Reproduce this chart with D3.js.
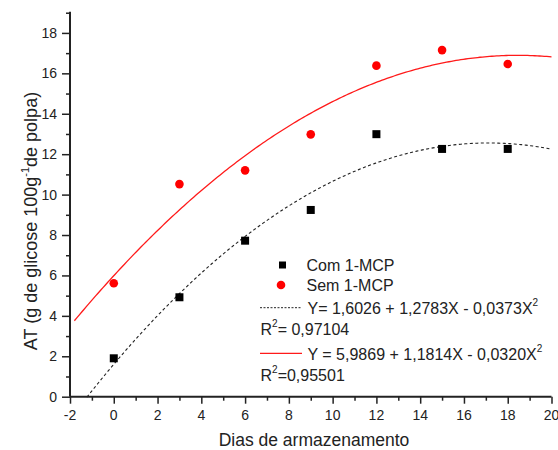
<!DOCTYPE html>
<html>
<head>
<meta charset="utf-8">
<script src="https://cdn.jsdelivr.net/npm/d3@7"></script>
<style>
  html, body { margin: 0; padding: 0; background: #fff; }
  svg { display: block; font-family: "Liberation Sans", Arial, sans-serif; }
</style>
</head>
<body>
<svg id="chart" width="558" height="450"></svg>
<script>
// Storage days
const days = [0, 3, 6, 9, 12, 15, 18];
// Titratable acidity, with and without 1-MCP
const comMCP = [1.90, 4.92, 7.72, 9.24, 12.99, 12.26, 12.26];
const semMCP = [5.61, 10.52, 11.20, 12.98, 16.38, 17.15, 16.46];
// Quadratic fit coefficients [a, b, c] for Y = a + bX + cX^2
const fitCom = [1.6026, 1.2783, -0.0373];
const fitSem = [5.9869, 1.1814, -0.0320];
const r2Com = "0,97104";
const r2Sem = "0,95501";
// Fit curve x-ranges
const fitComRange = [-1.23, 20];
const fitSemRange = [-1.8, 20];
// Axis ticks
const xTicks = [-2, 0, 2, 4, 6, 8, 10, 12, 14, 16, 18, 20];
const yTicks = [0, 2, 4, 6, 8, 10, 12, 14, 16, 18];

const svg = d3.select("#chart");
const plotL = 70, plotR = 551.5, plotT = 11.7, plotB = 396.7;

const x = d3.scaleLinear().domain([-2, 20]).range([plotL, plotR]);
const y = d3.scaleLinear().domain([0, 19.05]).range([plotB, plotT]);

const textColor = "#222";

// Fit curves
function curvePoints(c, range) {
  const pts = [];
  const n = 200;
  for (let i = 0; i <= n; i++) {
    const xv = range[0] + (range[1] - range[0]) * i / n;
    pts.push([xv, c[0] + c[1] * xv + c[2] * xv * xv]);
  }
  return pts;
}
const line = d3.line().x(d => x(d[0])).y(d => y(d[1]));

svg.append("path")
  .attr("d", line(curvePoints(fitSem, fitSemRange)))
  .attr("fill", "none").attr("stroke", "#ff1a1a").attr("stroke-width", 1.3);

svg.append("path")
  .attr("d", line(curvePoints(fitCom, fitComRange)))
  .attr("fill", "none").attr("stroke", "#222").attr("stroke-width", 1.1)
  .attr("stroke-dasharray", "3,2.5");

// Markers
svg.append("g").selectAll("rect").data(days).join("rect")
  .attr("x", (d) => x(d) - 4)
  .attr("y", (d, i) => y(comMCP[i]) - 4)
  .attr("width", 8).attr("height", 8)
  .attr("fill", "#000");

svg.append("g").selectAll("circle").data(days).join("circle")
  .attr("cx", d => x(d))
  .attr("cy", (d, i) => y(semMCP[i]))
  .attr("r", 4.3)
  .attr("fill", "#ff0000");

// Axes
const xAxis = svg.append("g").attr("transform", `translate(0,${plotB})`);
xAxis.call(d3.axisBottom(x).tickValues(d3.range(-2, 21, 1)).tickSize(4).tickFormat(""));
xAxis.call(g => g.selectAll(".tick").filter(d => d % 2 === 0).select("line").attr("y2", 7));
xAxis.selectAll(".tick line").attr("stroke", "#222").attr("stroke-width", 1.5);
xAxis.select(".domain").attr("stroke", "#222").attr("stroke-width", 2).attr("d", `M${plotL},0H${plotR}`);

svg.append("g").selectAll("text").data(xTicks).join("text")
  .attr("x", d => x(d)).attr("y", plotB + 23.5)
  .attr("text-anchor", "middle")
  .attr("font-size", 14).attr("fill", textColor)
  .text(d => d);

const yAxis = svg.append("g").attr("transform", `translate(${plotL},0)`);
yAxis.call(d3.axisLeft(y).tickValues(d3.range(0, 20, 1)).tickSize(4).tickFormat(""));
yAxis.call(g => g.selectAll(".tick").filter(d => d % 2 === 0).select("line").attr("x2", -8));
yAxis.selectAll(".tick line").attr("stroke", "#222").attr("stroke-width", 1.5);
yAxis.select(".domain").attr("stroke", "#222").attr("stroke-width", 2).attr("d", `M0,${plotB}V${plotT}`);

svg.append("g").selectAll("text").data(yTicks).join("text")
  .attr("x", plotL - 13).attr("y", d => y(d) + 5)
  .attr("text-anchor", "end")
  .attr("font-size", 14).attr("fill", textColor)
  .text(d => d);

// Axis titles
svg.append("text")
  .attr("x", 314).attr("y", 445.5)
  .attr("text-anchor", "middle")
  .attr("font-size", 17.5).attr("fill", textColor)
  .text("Dias de armazenamento");

const yt = svg.append("text")
  .attr("transform", `translate(36.5,221) rotate(-90)`)
  .attr("text-anchor", "middle")
  .attr("font-size", 18).attr("fill", textColor);
yt.append("tspan").text("AT (g de glicose 100g");
yt.append("tspan").attr("font-size", 11).attr("dy", -8).text("-1");
yt.append("tspan").attr("dy", 8).text("de polpa)");

// Legend
const lg = svg.append("g").attr("font-size", 16).attr("fill", textColor);
lg.append("rect").attr("x", 279).attr("y", 261.5).attr("width", 7).attr("height", 7).attr("fill", "#000");
lg.append("text").attr("x", 306.5).attr("y", 270.7).text("Com 1-MCP");
lg.append("circle").attr("cx", 281).attr("cy", 285).attr("r", 4.3).attr("fill", "#ff0000");
lg.append("text").attr("x", 306.5).attr("y", 290.7).text("Sem 1-MCP");

lg.append("line").attr("x1", 260).attr("x2", 302).attr("y1", 307.7).attr("y2", 307.7)
  .attr("stroke", "#222").attr("stroke-width", 1).attr("stroke-dasharray", "2,1.5");
const fmt = v => Math.abs(v).toFixed(4).replace(".", ",");
const e1 = lg.append("text").attr("x", 307.5).attr("y", 313.5);
e1.append("tspan").text(`Y= ${fmt(fitCom[0])} + ${fmt(fitCom[1])}X - ${fmt(fitCom[2])}X`);
e1.append("tspan").attr("font-size", 10).attr("dy", -8).text("2");
const r1 = lg.append("text").attr("x", 260.5).attr("y", 335);
r1.append("tspan").text("R");
r1.append("tspan").attr("font-size", 10).attr("dy", -8).text("2");
r1.append("tspan").attr("dy", 8).text(`= ${r2Com}`);

lg.append("line").attr("x1", 260).attr("x2", 302).attr("y1", 353.3).attr("y2", 353.3)
  .attr("stroke", "#ff1a1a").attr("stroke-width", 1.2);
const e2 = lg.append("text").attr("x", 307.5).attr("y", 360);
e2.append("tspan").text(`Y = ${fmt(fitSem[0])} + ${fmt(fitSem[1])}X - ${fmt(fitSem[2])}X`);
e2.append("tspan").attr("font-size", 10).attr("dy", -8).text("2");
const r2 = lg.append("text").attr("x", 260.5).attr("y", 380.7);
r2.append("tspan").text("R");
r2.append("tspan").attr("font-size", 10).attr("dy", -8).text("2");
r2.append("tspan").attr("dy", 8).text(`=${r2Sem}`);
</script>
</body>
</html>
